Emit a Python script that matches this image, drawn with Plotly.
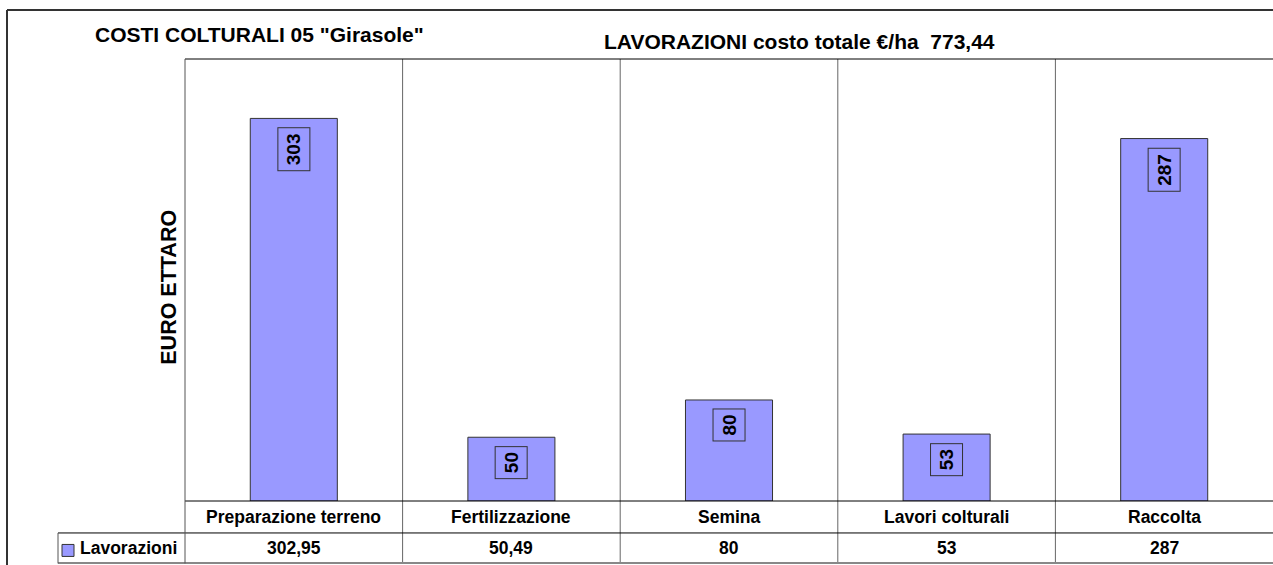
import plotly.graph_objects as go

categories = ['Preparazione terreno', 'Fertilizzazione', 'Semina', 'Lavori colturali', 'Raccolta']
costs = [302.95, 50.49, 80, 53, 287]
series_name = 'Lavorazioni'
chart_title = 'COSTI COLTURALI 05 "Girasole"'
y_title = 'EURO ETTARO'

W, H = 1273, 565
L, T, R, B = 185, 59, 0, 63.5
PW, PH = W - L - R, H - T - B

# pixel position in the picture -> paper coordinates
def px(x):
    return (x - L) / PW

def py(y):
    return (H - B - y) / PH

FONT = 'Arial, Liberation Sans, sans-serif'
BAR = '#9999FF'

def it(v):
    return f'{v:g}'.replace('.', ',')

def bold(size):
    return dict(family=FONT, size=size, color='black', weight='bold')

def note(x, y, text, size, xanchor='center', angle=0):
    return dict(x=px(x), y=py(y), xref='paper', yref='paper', text=text, showarrow=False,
                xanchor=xanchor, yanchor='middle', textangle=angle, font=bold(size))

total = sum(costs)

fig = go.Figure()
fig.add_trace(go.Bar(
    x=categories, y=costs, name=series_name, width=0.4,
    marker=dict(color=BAR, line=dict(color='#333333', width=1)),
    showlegend=False, hoverinfo='x+y',
))

ann = []
# value labels, rotated, boxed
for c, v in zip(categories, costs):
    ann.append(dict(x=c, y=v, xref='x', yref='y', text=f'{v:.0f}', textangle=-90,
                    yanchor='top', xanchor='center', yshift=-9, showarrow=False,
                    bordercolor='#333333', borderwidth=1, borderpad=5, font=bold(19)))

# data table
for i, (c, v) in enumerate(zip(categories, costs)):
    xc = (i + 0.5) / len(categories)
    ann.append(dict(x=xc, y=py(518), xref='paper', yref='paper', text=c, showarrow=False,
                    xanchor='center', yanchor='middle', font=bold(17.5)))
    ann.append(dict(x=xc, y=py(549), xref='paper', yref='paper', text=it(v), showarrow=False,
                    xanchor='center', yanchor='middle', font=bold(17.5)))

ann.append(note(78, 549, series_name, 17.5, xanchor='left'))

# titles
ann.append(note(259, 34, chart_title, 21))
ann.append(note(799, 41, f'{series_name.upper()} costo totale €/ha \u00a0{it(round(total, 2))}', 21))
ann.append(note(169, 288, y_title, 21.5, angle=-90))

def line(x0, y0, x1, y1, color='black', width=1, layer='above'):
    return dict(type='line', xref='paper', yref='paper', x0=px(x0), y0=py(y0), x1=px(x1), y1=py(y1),
                line=dict(color=color, width=width), layer=layer)

shapes = []
# outer frame
shapes.append(line(7, 10, 1300, 10, '#333333', 2))
shapes.append(line(7, 10, 7, 600, '#333333', 2))
# plot frame and table grid
shapes.append(line(185, 59, 1300, 59, 'black', 1))
shapes.append(line(185, 501.5, 1300, 501.5, 'black', 1))
shapes.append(line(58, 533.5, 1300, 533.5, 'black', 1))
shapes.append(line(58, 563.5, 1300, 563.5, '#888888', 2))
shapes.append(line(58, 533.5, 58, 564, '#555555', 1))
shapes.append(line(185, 59, 185, 564, '#555555', 1))
for k in range(1, len(categories)):
    xk = k / len(categories)
    shapes.append(dict(type='line', xref='paper', yref='paper', x0=xk, x1=xk, y0=py(564), y1=py(59),
                       line=dict(color='#666666', width=1), layer='below'))
# legend key
shapes.append(dict(type='rect', xref='paper', yref='paper', x0=px(62), x1=px(74), y0=py(557), y1=py(545),
                   fillcolor=BAR, line=dict(color='#333333', width=1)))

fig.update_layout(
    width=W, height=H,
    margin=dict(l=L, r=R, t=T, b=B),
    paper_bgcolor='white', plot_bgcolor='white',
    xaxis=dict(range=[-0.5, 4.5], showticklabels=False, showgrid=False, zeroline=False, ticks=''),
    yaxis=dict(range=[0, 350], showticklabels=False, showgrid=False, zeroline=False, ticks=''),
    annotations=ann, shapes=shapes,
)

# drop the default body margin and scrollbars so the figure fills the window exactly
fix_page = ("document.body.style.margin = '0';"
            "document.body.style.overflow = 'hidden';"
            "document.documentElement.style.overflow = 'hidden';")
fig.write_html('out.html', config={'displayModeBar': False}, post_script=fix_page)
